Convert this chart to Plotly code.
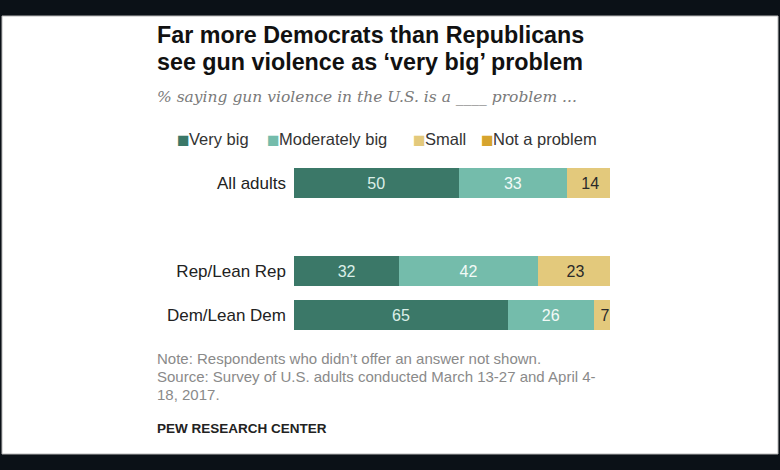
import plotly.graph_objects as go

# ---- data ----
categories = ["All adults", "Rep/Lean Rep", "Dem/Lean Dem"]
cat_pos = [0, 2, 3]
series_names = ["Very big", "Moderately big", "Small", "Not a problem"]
very_big = [50, 32, 65]
moderately_big = [33, 42, 26]
small = [14, 23, 7]

title_lines = ["Far more Democrats than Republicans",
               "see gun violence as \u2018very big\u2019 problem"]
subtitle = "% saying gun violence in the U.S. is a ____ problem ..."
notes = ["Note: Respondents who didn\u2019t offer an answer not shown.",
         "Source: Survey of U.S. adults conducted March 13-27 and April 4-",
         "18, 2017."]
credit = "PEW RESEARCH CENTER"

# ---- style ----
colors = ["#3b7868", "#74bcab", "#e3c97c", "#d6a42e"]
text_colors = ["#dcefe8", "#f2faf7", "#2a2a2a"]
W, H = 780, 470
ML, MR, MT, MB = 294, 170, 161, 133
PW, PH = W - ML - MR, H - MT - MB
SANS = "Liberation Sans, Arial, sans-serif"

def px(x):
    return (x - ML) / PW

def py(y):
    return (H - MB - y) / PH

fig = go.Figure()
for name, vals, col, tcol in zip(series_names[:3], [very_big, moderately_big, small], colors[:3], text_colors):
    fig.add_trace(go.Bar(
        name=name, x=vals, y=cat_pos, orientation="h",
        marker=dict(color=col, line=dict(width=0)),
        text=vals, textposition="inside", insidetextanchor="middle",
        textangle=0, constraintext="none",
        textfont=dict(family=SANS, size=16, color=tcol),
        width=0.66, showlegend=False, hoverinfo="skip",
    ))

fig.update_layout(
    barmode="stack",
    width=W, height=H,
    margin=dict(l=ML, r=MR, t=MT, b=MB, pad=0),
    paper_bgcolor="#0b1117",
    plot_bgcolor="rgba(0,0,0,0)",
    showlegend=False,
    xaxis=dict(range=[0, 96], visible=False, fixedrange=True),
    yaxis=dict(range=[3.5, -0.5], tickvals=cat_pos, ticktext=categories,
               showgrid=False, zeroline=False, showline=False, ticks="",
               ticklabelstandoff=7, fixedrange=True,
               tickfont=dict(family=SANS, size=17, color="#222222")),
)

# white card
fig.add_shape(type="rect", xref="paper", yref="paper",
              x0=px(2), x1=px(778), y0=py(454), y1=py(16),
              fillcolor="white", line=dict(color="#b8b8b8", width=1), layer="below")

ann = []
def add_text(txt, x, y, size, color, family=SANS, xanchor="left"):
    ann.append(dict(text=txt, x=px(x), y=py(y), xref="paper", yref="paper",
                    xanchor=xanchor, yanchor="middle", showarrow=False,
                    font=dict(family=family, size=size, color=color)))

add_text("<b>" + title_lines[0] + "</b>", 155, 35, 23.3, "#111111")
add_text("<b>" + title_lines[1] + "</b>", 155, 62, 23.3, "#111111")
add_text("<i>" + subtitle + "</i>", 155, 97, 15.5, "#7a7a7a", family="DejaVu Serif, Georgia, serif")

legend_x = [176, 266, 412, 480]
for name, col, lx in zip(series_names, colors, legend_x):
    add_text("\u25A0", lx - 1, 139, 21, col)
    add_text(name, lx + 11, 139, 16.5, "#333333")

for i, line in enumerate(notes):
    add_text(line, 155, 358 + i * 18, 15, "#8a8a8a")
add_text("<b>" + credit + "</b>", 155, 428, 13.5, "#222222")

fig.update_layout(annotations=ann)
fig.write_html("out.html", config={"displayModeBar": False},
               post_script="document.body.style.margin='0';")
